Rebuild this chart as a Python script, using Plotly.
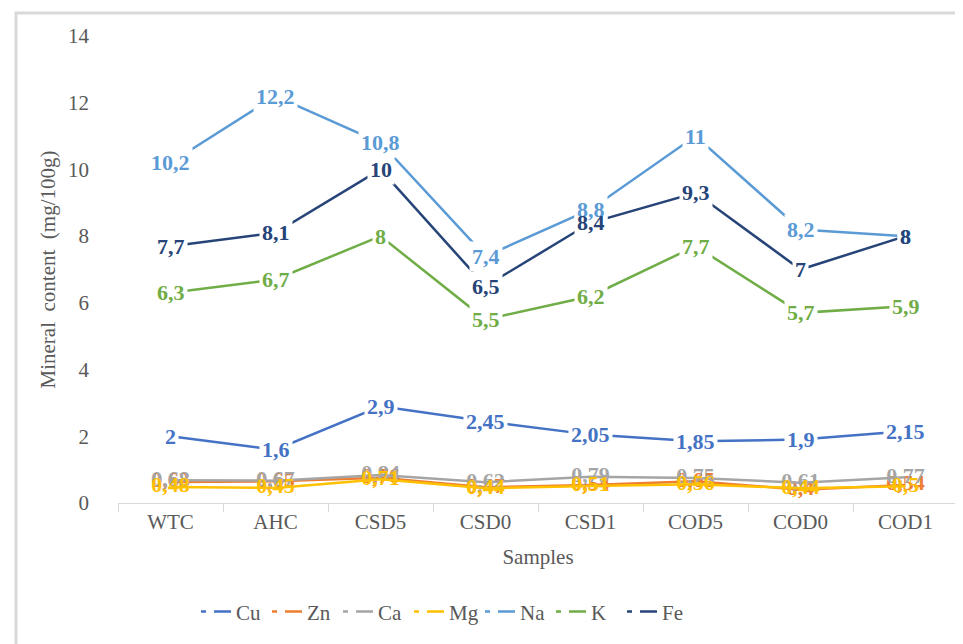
import plotly.graph_objects as go

samples = ["WTC", "AHC", "CSD5", "CSD0", "CSD1", "COD5", "COD0", "COD1"]
cu = [2, 1.6, 2.9, 2.45, 2.05, 1.85, 1.9, 2.15]
zn = [0.63, 0.65, 0.76, 0.47, 0.54, 0.65, 0.40, 0.54]
ca = [0.68, 0.67, 0.84, 0.62, 0.79, 0.75, 0.61, 0.77]
mg = [0.48, 0.45, 0.71, 0.44, 0.51, 0.56, 0.44, 0.50]
na = [10.2, 12.2, 10.8, 7.4, 8.8, 11, 8.2, 8]
k = [6.3, 6.7, 8, 5.5, 6.2, 7.7, 5.7, 5.9]
fe = [7.7, 8.1, 10, 6.5, 8.4, 9.3, 7, 8]

series = [
    ("Cu", cu, "#4472C4", True),
    ("Zn", zn, "#ED7D31", False),
    ("Ca", ca, "#A5A5A5", False),
    ("Mg", mg, "#FFC000", False),
    ("Na", na, "#5B9BD5", True),
    ("K", k, "#70AD47", True),
    ("Fe", fe, "#264478", True),
]

def fmt(v):
    return f"{v:g}".replace(".", ",")

FONT = "Liberation Serif, Times New Roman, serif"
LBL_SIZE = 22

fig = go.Figure()
masks = []
labels = []
for name, vals, color, boxed in series:
    txt = [fmt(v) for v in vals]
    fig.add_trace(go.Scatter(
        x=samples, y=vals, name=name, mode="lines" if boxed else "lines+text",
        line=dict(color=color, width=2.5),
        text=None if boxed else txt, textposition="middle center",
        textfont=dict(family=FONT, size=LBL_SIZE, color=color, weight="bold"),
        showlegend=False, cliponaxis=False, hoverinfo="x+y+name",
    ))
    if boxed:
        for xs, v, t in zip(samples, vals, txt):
            # white mask that interrupts the lines behind the label
            masks.append(dict(
                x=xs, y=v, xref="x", yref="y", text=t, showarrow=False,
                font=dict(family=FONT, size=LBL_SIZE, color="white", weight="bold"),
                bgcolor="white", borderpad=2,
            ))
            labels.append(dict(
                x=xs, y=v, xref="x", yref="y", text=t, showarrow=False,
                font=dict(family=FONT, size=LBL_SIZE, color=color, weight="bold"),
                borderpad=2,
            ))

# legend entries with Excel-like dashed symbol
for name, vals, color, boxed in series:
    fig.add_trace(go.Scatter(
        x=[None], y=[None], name=name, mode="lines",
        line=dict(color=color, width=2.5, dash="5px,8px,20px"),
    ))

fig.update_layout(
    width=963, height=644,
    margin=dict(l=110, r=13, t=28, b=149),
    paper_bgcolor="white", plot_bgcolor="white",
    font=dict(family=FONT, color="#595959", size=20),
    annotations=masks + labels,
    xaxis=dict(
        type="category", range=[-0.5, 7.5], showline=True, linecolor="#d9d9d9", linewidth=1,
        ticks="outside", tickson="boundaries", ticklen=8, tickcolor="#d9d9d9",
        showgrid=False, tickfont=dict(family=FONT, size=21, color="#595959"),
        title=dict(text="Samples", font=dict(family=FONT, size=21, color="#595959"), standoff=16),
    ),
    yaxis=dict(
        range=[0, 14], dtick=2, showgrid=False, zeroline=False, showline=False,
        tickfont=dict(family=FONT, size=21, color="#595959"), ticklabelstandoff=28,
        title=dict(text="Mineral  content  (mg/100g)", font=dict(family=FONT, size=21, color="#595959"), standoff=6),
    ),
    legend=dict(
        orientation="h", x=(188 - 110) / 840, xanchor="left", y=-0.233, yanchor="middle",
        font=dict(family=FONT, size=21, color="#595959"), itemwidth=30,
        entrywidth=26, entrywidthmode="pixels",
    ),
    shapes=[dict(
        type="rect", xref="paper", yref="paper",
        x0=(8 - 110) / 840, x1=(975 - 110) / 840,
        y0=(495 - 642) / 467, y1=(495 - 5) / 467,
        line=dict(color="#d9d9d9", width=3), fillcolor="rgba(0,0,0,0)", layer="below",
    )],
)

fig.write_html("out.html")
